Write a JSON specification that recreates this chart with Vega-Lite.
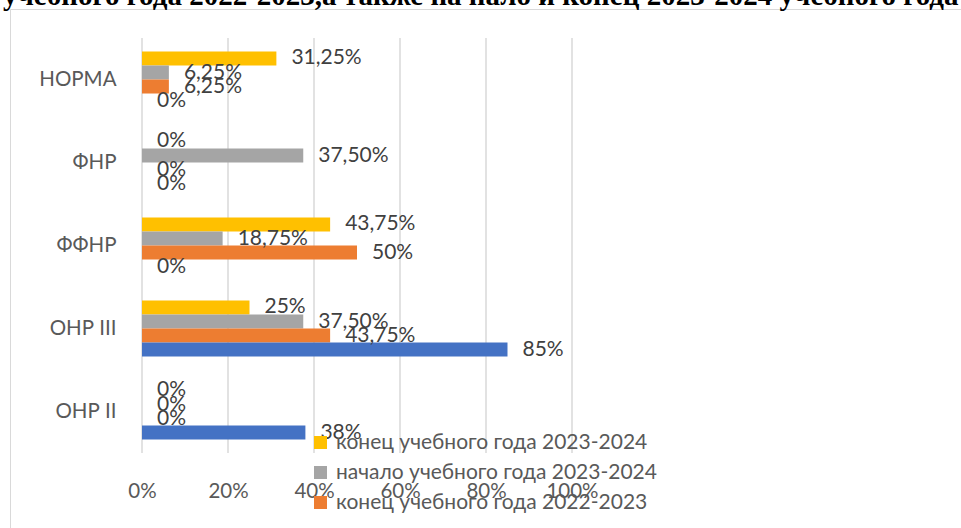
{
  "$schema": "https://vega.github.io/schema/vega-lite/v6.json",
  "width": 952,
  "height": 520,
  "autosize": {"type": "none"},
  "padding": {"left": 10, "top": 9, "right": -1, "bottom": -1},
  "background": "white",
  "title": {
    "text": "учебного года 2022-2023,а также на нало  и конец 2023-2024 учебного года",
    "anchor": "start",
    "frame": "group",
    "font": "Liberation Serif",
    "fontWeight": "bold",
    "fontSize": 29,
    "color": "#000000",
    "baseline": "alphabetic",
    "dx": -7,
    "offset": -25
  },
  "data": {
    "values": [
      {"category": "НОРМА", "series": "конец учебного года 2023-2024", "value": 0.3125, "label": "31,25%"},
      {"category": "НОРМА", "series": "начало учебного года 2023-2024", "value": 0.0625, "label": "6,25%"},
      {"category": "НОРМА", "series": "конец учебного года 2022-2023", "value": 0.0625, "label": "6,25%"},
      {"category": "НОРМА", "series": "начало учебного года 2022-2023", "value": 0, "label": "0%"},
      {"category": "ФНР", "series": "конец учебного года 2023-2024", "value": 0, "label": "0%"},
      {"category": "ФНР", "series": "начало учебного года 2023-2024", "value": 0.375, "label": "37,50%"},
      {"category": "ФНР", "series": "конец учебного года 2022-2023", "value": 0, "label": "0%"},
      {"category": "ФНР", "series": "начало учебного года 2022-2023", "value": 0, "label": "0%"},
      {"category": "ФФНР", "series": "конец учебного года 2023-2024", "value": 0.4375, "label": "43,75%"},
      {"category": "ФФНР", "series": "начало учебного года 2023-2024", "value": 0.1875, "label": "18,75%"},
      {"category": "ФФНР", "series": "конец учебного года 2022-2023", "value": 0.5, "label": "50%"},
      {"category": "ФФНР", "series": "начало учебного года 2022-2023", "value": 0, "label": "0%"},
      {"category": "ОНР III", "series": "конец учебного года 2023-2024", "value": 0.25, "label": "25%"},
      {"category": "ОНР III", "series": "начало учебного года 2023-2024", "value": 0.375, "label": "37,50%"},
      {"category": "ОНР III", "series": "конец учебного года 2022-2023", "value": 0.4375, "label": "43,75%"},
      {"category": "ОНР III", "series": "начало учебного года 2022-2023", "value": 0.85, "label": "85%"},
      {"category": "ОНР II", "series": "конец учебного года 2023-2024", "value": 0, "label": "0%"},
      {"category": "ОНР II", "series": "начало учебного года 2023-2024", "value": 0, "label": "0%"},
      {"category": "ОНР II", "series": "конец учебного года 2022-2023", "value": 0, "label": "0%"},
      {"category": "ОНР II", "series": "начало учебного года 2022-2023", "value": 0.38, "label": "38%"}
    ]
  },
  "layer": [
    {
      "data": {"values": [{"tick": 0}, {"tick": 0.2}, {"tick": 0.4}, {"tick": 0.6}, {"tick": 0.8}, {"tick": 1}]},
      "mark": {"type": "rule", "color": "#d9d9d9", "strokeWidth": 1.5},
      "encoding": {
        "x": {
          "field": "tick",
          "type": "quantitative",
          "scale": {"domain": [-0.30698, 1.90698], "nice": false, "zero": false},
          "axis": {
            "title": null,
            "values": [0, 0.2, 0.4, 0.6, 0.8, 1],
            "format": ".0%",
            "domain": false,
            "ticks": false,
            "grid": false,
            "offset": -76,
            "labelFont": "Lato",
            "labelFontSize": 20.5,
            "labelColor": "#595959",
            "labelPadding": 28
          }
        },
        "y": {
          "datum": 0,
          "type": "quantitative",
          "scale": {"domain": [-0.18313, 1.06988], "nice": false, "zero": false},
          "axis": null
        },
        "y2": {"datum": 1}
      }
    },
    {
      "encoding": {
        "y": {
          "field": "category",
          "type": "nominal",
          "sort": ["НОРМА", "ФНР", "ФФНР", "ОНР III", "ОНР II"],
          "scale": {"paddingInner": 0.325, "paddingOuter": 0.79503, "align": 0.322},
          "axis": {
            "title": null,
            "domain": false,
            "ticks": false,
            "offset": -132,
            "labelFont": "Lato",
            "labelFontSize": 20.5,
            "labelColor": "#595959",
            "labelPadding": 26
          }
        },
        "yOffset": {
          "field": "series",
          "type": "nominal",
          "sort": ["конец учебного года 2023-2024", "начало учебного года 2023-2024", "конец учебного года 2022-2023", "начало учебного года 2022-2023"],
          "scale": {"paddingInner": 0, "paddingOuter": 0}
        },
        "x": {"field": "value", "type": "quantitative"}
      },
      "layer": [
        {
          "mark": {"type": "bar"},
          "encoding": {
            "color": {
              "field": "series",
              "type": "nominal",
              "scale": {
                "domain": ["конец учебного года 2023-2024", "начало учебного года 2023-2024", "конец учебного года 2022-2023", "начало учебного года 2022-2023"],
                "range": ["#FFC000", "#A5A5A5", "#ED7D31", "#4472C4"]
              },
              "legend": {
                "title": null,
                "orient": "none",
                "legendX": 300,
                "legendY": 423,
                "values": ["конец учебного года 2023-2024", "начало учебного года 2023-2024", "конец учебного года 2022-2023"],
                "symbolType": "square",
                "symbolSize": 169,
                "symbolStrokeWidth": 0,
                "symbolOpacity": 1,
                "labelFont": "Lato",
                "labelFontSize": 21,
                "labelColor": "#595959",
                "labelOffset": 5,
                "rowPadding": 8,
                "labelLimit": 500
              }
            }
          }
        },
        {
          "mark": {"type": "text", "align": "left", "baseline": "middle", "dx": 15, "font": "Lato", "fontSize": 21, "color": "#404040"},
          "encoding": {
            "text": {"field": "label", "type": "nominal"}
          }
        }
      ]
    }
  ],
  "resolve": {"scale": {"y": "independent"}, "axis": {"y": "independent"}},
  "config": {
    "view": {"stroke": "#d9d9d9", "strokeWidth": 1}
  }
}
